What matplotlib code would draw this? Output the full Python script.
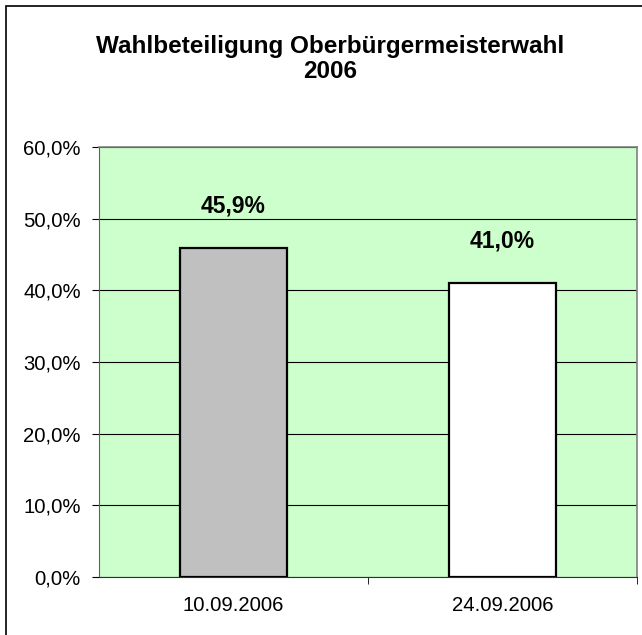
import matplotlib.pyplot as plt
from matplotlib.patches import Rectangle

plt.rcParams['font.family'] = ['Liberation Sans', 'DejaVu Sans']

dates = ['10.09.2006', '24.09.2006']
turnout = [45.9, 41.0]
bar_colors = ['#c0c0c0', '#ffffff']
yticks = [0, 10, 20, 30, 40, 50, 60]

W, H = 642, 635
fig = plt.figure(figsize=(W / 100, H / 100), dpi=100)

# outer chart frame (cut off at right/bottom like the original)
fig.patches.append(Rectangle((6 / W, -0.1), 1.2, 1 - 6 / H + 0.1, transform=fig.transFigure,
                             fill=False, edgecolor='black', linewidth=1.2))

ax = fig.add_axes([99 / W, 1 - 577 / H, (637 - 99) / W, (577 - 147) / H])
ax.set_facecolor('#ccffcc')
ax.set_axisbelow(True)

x = list(range(len(dates)))
ax.bar(x, turnout, width=0.4, color=bar_colors, edgecolor='black', linewidth=1.6, zorder=3)
for xi, v in zip(x, turnout):
    ax.text(xi, v + 5.9, f'{v:.1f}%'.replace('.', ','), ha='center', va='center',
            fontsize=16.5, fontweight='bold')

ax.set_xlim(-0.5, len(dates) - 0.5)
ax.set_ylim(0, 60)
ax.set_yticks(yticks)
ax.set_yticklabels([f'{t:.1f}%'.replace('.', ',') for t in yticks], fontsize=14.6)
ax.yaxis.grid(True, color='black', linewidth=0.8)

ax.set_xticks(x)
ax.set_xticklabels(dates, fontsize=14.6)
ax.tick_params(axis='x', length=0, pad=14)
ax.set_xticks([0.5, 1.5], minor=True)
ax.tick_params(axis='x', which='minor', length=5, direction='out')
ax.tick_params(axis='y', length=5, direction='out', pad=8)

for s in ['top', 'right']:
    ax.spines[s].set_color('#808080')
    ax.spines[s].set_linewidth(1.2)
ax.spines['left'].set_color('#606060')
ax.spines['bottom'].set_color('#303030')

fig.text(330 / W, 1 - 59 / H, 'Wahlbeteiligung Oberbürgermeisterwahl\n2006', ha='center',
         va='center', fontsize=17.5, fontweight='bold', linespacing=1.15)

fig.savefig('out.png', dpi=100)
